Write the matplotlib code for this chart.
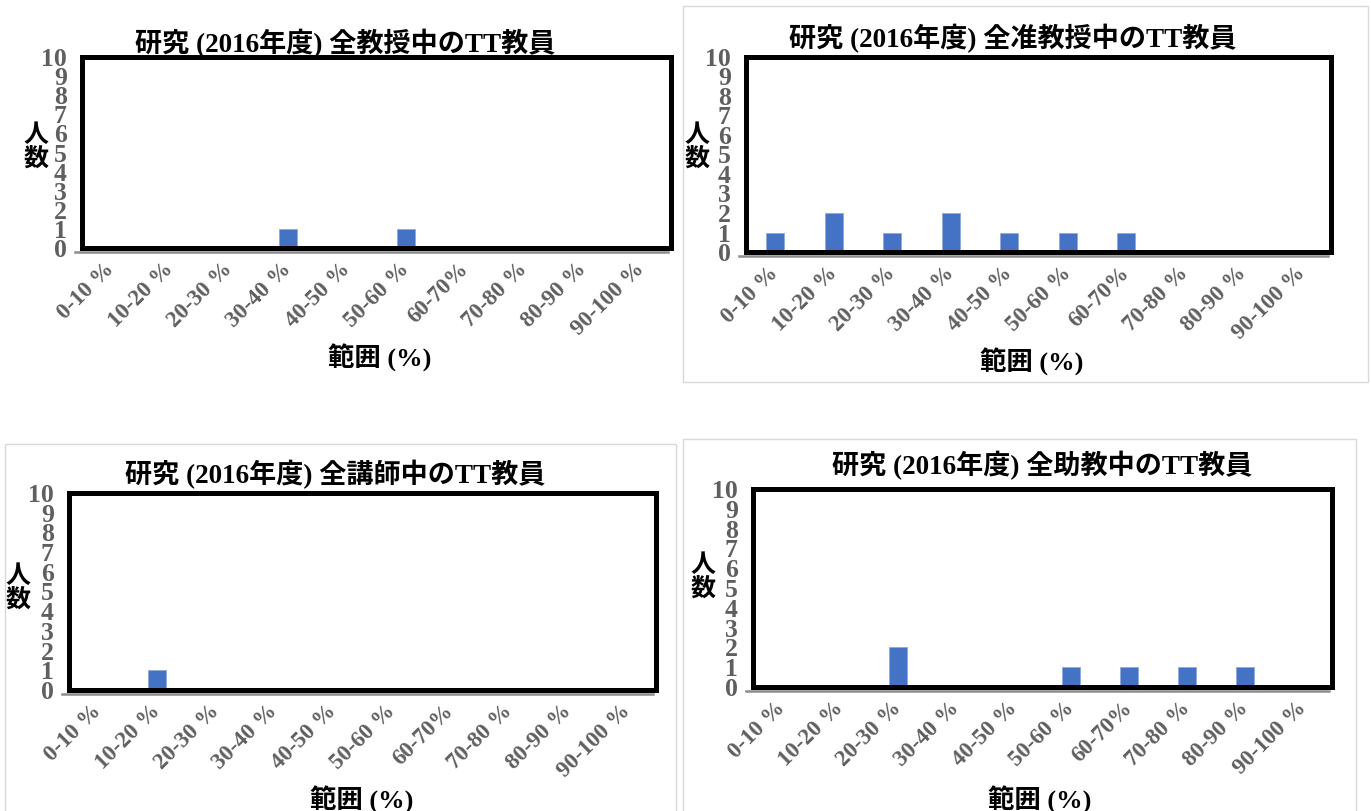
import matplotlib.pyplot as plt
import matplotlib.patches as mpatches
import matplotlib.transforms as mtransforms

# range categories on the x axis
ranges = ['0-10 %', '10-20 %', '20-30 %', '30-40 %', '40-50 %',
          '50-60 %', '60-70%', '70-80 %', '80-90 %', '90-100 %']

# number of TT staff per range, one list per rank
professors = [0, 0, 0, 1, 0, 1, 0, 0, 0, 0]
assoc_professors = [1, 2, 1, 2, 1, 1, 1, 0, 0, 0]
lecturers = [0, 1, 0, 0, 0, 0, 0, 0, 0, 0]
assist_professors = [0, 0, 2, 0, 0, 1, 1, 1, 1, 0]

titles = ['研究 (2016年度) 全教授中のTT教員',
          '研究 (2016年度) 全准教授中のTT教員',
          '研究 (2016年度) 全講師中のTT教員',
          '研究 (2016年度) 全助教中のTT教員']

W, H = 1371, 811
fig = plt.figure(figsize=(W / 100, H / 100), dpi=100)

mixed_font = ['Liberation Serif', 'Noto Sans CJK JP']
cjk_font = ['Noto Sans CJK JP']
tick_grey = '#5f5f5f'
bar_blue = '#4472C4'


def px_box(x0, y0, x1, y1):
    # pixel box (top-left origin) -> figure fraction rect
    return [x0 / W, 1 - y1 / H, (x1 - x0) / W, (y1 - y0) / H]


# layout of each chart: plot frame, outer border, title, y label and x label positions
panels = [
    {'data': professors, 'frame': (82, 57, 671, 248), 'border': None,
     'title': (345, 43), 'ylab': (36, 147), 'xlab': (380, 358)},
    {'data': assoc_professors, 'frame': (746, 57, 1331, 252), 'border': (683, 6, 1368, 382),
     'title': (1013, 38), 'ylab': (697, 147), 'xlab': (1032, 362)},
    {'data': lecturers, 'frame': (69, 493, 656, 690), 'border': (5, 444, 676, 830),
     'title': (335, 474), 'ylab': (18, 588), 'xlab': (362, 800)},
    {'data': assist_professors, 'frame': (753, 489, 1332, 687), 'border': (683, 439, 1356, 830),
     'title': (1042, 465), 'ylab': (703, 577), 'xlab': (1040, 800)},
]

for i, p in enumerate(panels):
    # light grey chart-area border
    if p['border'] is not None:
        bx0, by0, bx1, by1 = p['border']
        fig.patches.append(mpatches.Rectangle((bx0 / W, 1 - by1 / H), (bx1 - bx0) / W, (by1 - by0) / H,
                                              transform=fig.transFigure, facecolor='none',
                                              edgecolor='#d9d9d9', linewidth=1.0, zorder=0))

    ax = fig.add_axes(px_box(*p['frame']))
    x = range(len(ranges))
    ax.bar(x, p['data'], width=0.31, color=bar_blue, edgecolor='#8faadc', linewidth=0.6, zorder=2)
    ax.set_xlim(-0.5, len(ranges) - 0.5)
    ax.set_ylim(0, 10)
    ax.set_yticks(range(0, 11))
    ax.set_xticks(list(x))
    ax.set_xticklabels(ranges, rotation=45, ha='right', va='center', rotation_mode='anchor')
    ax.tick_params(axis='both', length=0)
    ax.tick_params(axis='y', pad=11)
    ax.tick_params(axis='x', pad=13)
    for lab in ax.get_yticklabels() + ax.get_xticklabels():
        lab.set_family(mixed_font)
        lab.set_fontweight('bold')
        lab.set_color(tick_grey)
    for lab in ax.get_yticklabels():
        lab.set_fontsize(18.5)
    for lab in ax.get_xticklabels():
        lab.set_fontsize(16.5)

    # thick black plot-area frame
    for side in ax.spines.values():
        side.set_linewidth(3.6)
        side.set_color('black')
        side.set_capstyle('projecting')

    # grey category axis line just under the frame
    shift = mtransforms.offset_copy(ax.transAxes, fig=fig, x=0, y=-3.5, units='dots')
    ax.plot([-0.012, 0.995], [0, 0], transform=shift, color='#8c8c8c', linewidth=1.8,
            clip_on=False, zorder=1)

    tx, ty = p['title']
    fig.text(tx / W, 1 - ty / H, titles[i], family=mixed_font, fontweight='bold',
             fontsize=19.5, ha='center', va='center')
    lx, ly = p['ylab']
    fig.text(lx / W, 1 - ly / H, '人\n数', family=cjk_font, fontweight='bold',
             fontsize=18, ha='center', va='center', linespacing=1.0)
    xx, xy = p['xlab']
    fig.text(xx / W, 1 - xy / H, '範囲 (%)', family=mixed_font, fontweight='bold',
             fontsize=19, ha='center', va='center')

fig.savefig('out.png', dpi=100)
